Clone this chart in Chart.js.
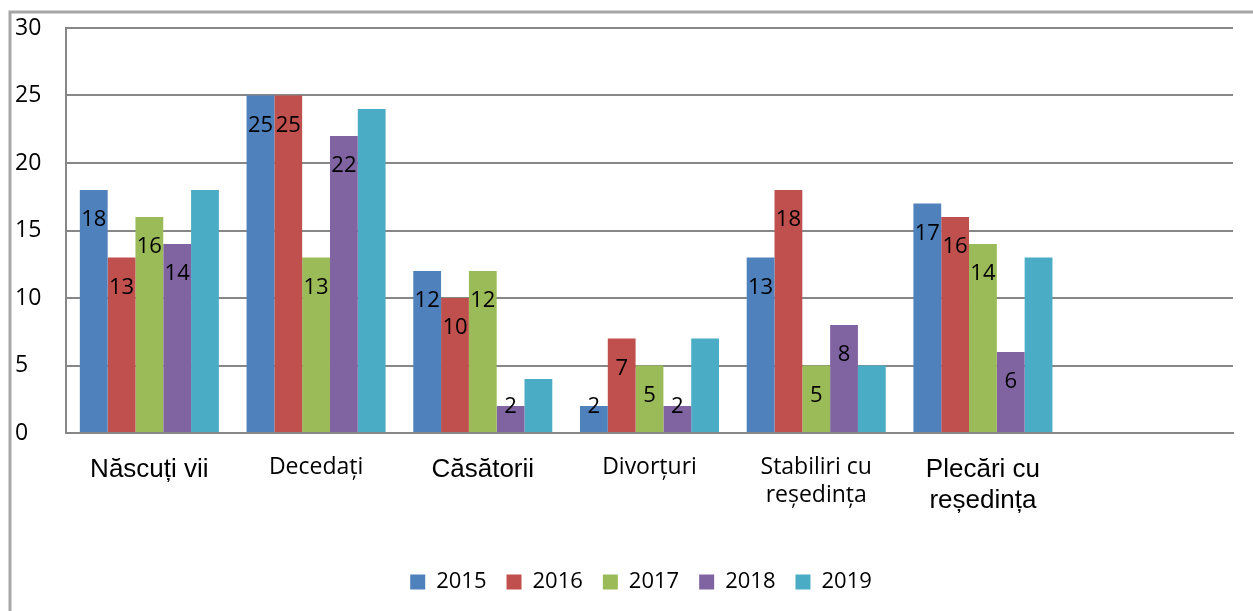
<!DOCTYPE html>
<html>
<head>
<meta charset="utf-8">
<script src="https://cdn.jsdelivr.net/npm/chart.js@4/dist/chart.umd.min.js"></script>
<style>
  html, body { margin: 0; padding: 0; background: #fff; }
  #wrap { width: 1253px; height: 611px; }
</style>
</head>
<body>
<div id="wrap"><canvas id="c"></canvas></div>
<script>
const categories = ['Născuți vii', 'Decedați', 'Căsătorii', 'Divorțuri', ['Stabiliri cu', 'reședința'], ['Plecări cu', 'reședința'], ''];
const years = ['2015', '2016', '2017', '2018', '2019'];
const v2015 = [18, 25, 12, 2, 13, 17];
const v2016 = [13, 25, 10, 7, 18, 16];
const v2017 = [16, 13, 12, 5, 5, 14];
const v2018 = [14, 22, 2, 2, 8, 6];
const v2019 = [18, 24, 4, 7, 5, 13];
const yTicks = [0, 5, 10, 15, 20, 25, 30];

const colors = ['#4f81bd', '#c0504d', '#9bbb59', '#8064a2', '#4bacc6'];
const series = [v2015, v2016, v2017, v2018, v2019];
// labels only shown for the first four years
const labelled = [true, true, true, true, false];
// categories drawn with the bigger sans font
const bigFont = [0, 2, 5];

const gridColor = '#878787';
const textFont = "'Open Sans', sans-serif";

// outer frame (left + top)
const framePlugin = {
  id: 'frame',
  beforeDraw(chart) {
    const ctx = chart.ctx;
    ctx.save();
    ctx.strokeStyle = '#a6a6a6';
    ctx.lineWidth = 3;
    ctx.beginPath();
    ctx.moveTo(10, 611);
    ctx.lineTo(10, 12);
    ctx.lineTo(1253, 12);
    ctx.stroke();
    ctx.restore();
  }
};

// value labels near the top of the bars
const valuePlugin = {
  id: 'values',
  afterDatasetsDraw(chart) {
    const ctx = chart.ctx;
    ctx.save();
    ctx.font = '22px ' + textFont;
    ctx.fillStyle = '#000';
    ctx.textAlign = 'center';
    ctx.textBaseline = 'middle';
    chart.data.datasets.forEach((ds, i) => {
      if (!labelled[i]) return;
      chart.getDatasetMeta(i).data.forEach((bar, j) => {
        if (ds.data[j] == null) return;
        const y = Math.min(bar.y + 30, bar.base - 25);
        ctx.fillText(String(ds.data[j]), bar.x, y);
      });
    });
    ctx.restore();
  }
};

// move legend to where the original has it
const legendPos = {
  id: 'legendPos',
  afterLayout(chart) {
    const lg = chart.legend;
    if (!lg) return;
    const dy = 577 - (lg.top + lg.height / 2);
    lg.top += dy; lg.bottom += dy;
    lg.left += 17; lg.right += 17;
  }
};

new Chart(document.getElementById('c'), {
  type: 'bar',
  data: {
    labels: categories,
    datasets: series.map((vals, i) => ({
      label: years[i],
      data: vals,
      backgroundColor: colors[i],
      borderWidth: 0,
      barPercentage: 1,
      categoryPercentage: 0.834
    }))
  },
  options: {
    responsive: true,
    maintainAspectRatio: false,
    animation: false,
    layout: { padding: { left: 15, right: 20, top: 28, bottom: 0 } },
    plugins: {
      legend: {
        position: 'bottom',
        labels: {
          boxWidth: 15,
          boxHeight: 15,
          padding: 20,
          color: '#000',
          font: { family: textFont, size: 22 }
        }
      },
      tooltip: { enabled: false }
    },
    scales: {
      x: {
        grid: { display: false, drawTicks: false },
        border: { display: true, color: gridColor, width: 2 },
        ticks: {
          color: '#000',
          padding: 21,
          maxRotation: 0,
          autoSkip: false,
          font: (ctx) => bigFont.includes(ctx.index)
            ? { family: "'Liberation Sans', Arial, sans-serif", size: 26, lineHeight: 1.2 }
            : { family: textFont, size: 23, lineHeight: 1.2 }
        },
        afterFit(scale) {
          scale.height = scale.chart.height - 433 - scale.chart.legend.height;
        }
      },
      y: {
        min: 0,
        max: 30,
        afterBuildTicks(scale) {
          scale.ticks = yTicks.map(v => ({ value: v }));
        },
        grid: { color: gridColor, lineWidth: 2, drawTicks: false },
        border: { display: true, color: gridColor, width: 2 },
        ticks: {
          color: '#000',
          crossAlign: 'far',
          padding: 8,
          font: { family: textFont, size: 23 }
        },
        afterFit(scale) {
          scale.width = 51;
        }
      }
    }
  },
  plugins: [framePlugin, valuePlugin, legendPos]
});
</script>
</body>
</html>
